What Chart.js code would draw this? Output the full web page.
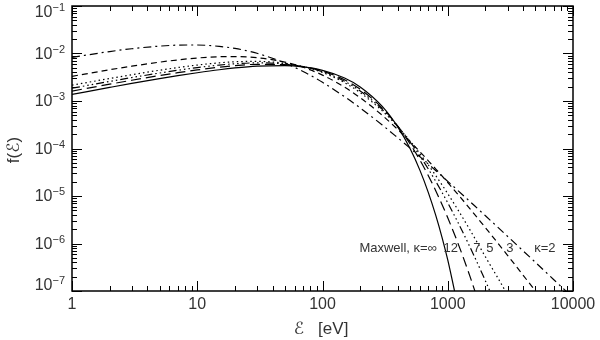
<!DOCTYPE html>
<html lang="en">
<head>
<meta charset="UTF-8">
<title>Kappa distributions</title>
<script src="https://cdn.jsdelivr.net/npm/chart.js"></script>
<style>
  html, body { margin: 0; padding: 0; background: #fff; }
  #wrap { width: 600px; height: 340px; position: relative; }
</style>
</head>
<body>
<div id="wrap"><canvas id="kappaChart"></canvas></div>
<script>
// energy grid [eV] and f(E)
const energy = [1, 2, 3, 5, 7, 10, 15, 20, 30, 50, 70, 100, 150, 200, 300, 400, 500, 600, 700, 800, 900, 1000, 1200, 1500, 2000, 3000, 5000, 7000, 10000];

const maxwell = [1.38e-3, 1.93e-3, 2.34e-3, 2.95e-3, 3.41e-3, 3.93e-3, 4.55e-3, 4.96e-3, 5.41e-3, 5.56e-3, 5.22e-3, 4.43e-3, 3.05e-3, 1.98e-3, 7.70e-4, 2.81e-4, 9.96e-5, 3.46e-5, 1.18e-5, 4.0e-6, 1.35e-6, 4.5e-7, 4.9e-8, null, null, null, null, null, null];
const kappa12 = [1.62e-3, 2.26e-3, 2.73e-3, 3.43e-3, 3.94e-3, 4.51e-3, 5.15e-3, 5.55e-3, 5.92e-3, 5.82e-3, 5.27e-3, 4.26e-3, 2.79e-3, 1.77e-3, 7.10e-4, 2.93e-4, 1.26e-4, 5.68e-5, 2.68e-5, 1.31e-5, 6.63e-6, 3.48e-6, 1.05e-6, 2.08e-7, 2.08e-8, null, null, null, null];
const kappa7 = [1.86e-3, 2.58e-3, 3.11e-3, 3.88e-3, 4.44e-3, 5.06e-3, 5.71e-3, 6.08e-3, 6.35e-3, 6.02e-3, 5.30e-3, 4.13e-3, 2.61e-3, 1.63e-3, 6.66e-4, 2.92e-4, 1.38e-4, 6.94e-5, 3.69e-5, 2.06e-5, 1.19e-5, 7.18e-6, 2.85e-6, 8.56e-7, 1.63e-7, 1.32e-8, null, null, null];
const kappa5 = [2.15e-3, 2.98e-3, 3.58e-3, 4.44e-3, 5.06e-3, 5.71e-3, 6.36e-3, 6.69e-3, 6.83e-3, 6.22e-3, 5.29e-3, 3.99e-3, 2.43e-3, 1.50e-3, 6.20e-4, 2.86e-4, 1.44e-4, 7.81e-5, 4.50e-5, 2.72e-5, 1.72e-5, 1.12e-5, 5.22e-6, 1.96e-6, 5.22e-7, 8.21e-8, 5.5e-9, null, null];
const kappa3 = [3.31e-3, 4.55e-3, 5.40e-3, 6.57e-3, 7.33e-3, 8.04e-3, 8.56e-3, 8.63e-3, 8.17e-3, 6.60e-3, 5.13e-3, 3.51e-3, 1.96e-3, 1.17e-3, 4.99e-4, 2.50e-4, 1.40e-4, 8.53e-5, 5.51e-5, 3.74e-5, 2.64e-5, 1.92e-5, 1.10e-5, 5.43e-6, 2.15e-6, 5.65e-7, 1.01e-7, 3.20e-8, 9.4e-9];
const kappa2 = [8.29e-3, 1.10e-2, 1.26e-2, 1.43e-2, 1.50e-2, 1.51e-2, 1.41e-2, 1.28e-2, 1.01e-2, 6.32e-3, 4.18e-3, 2.47e-3, 1.23e-3, 7.15e-4, 3.12e-4, 1.67e-4, 1.02e-4, 6.71e-5, 4.70e-5, 3.44e-5, 2.61e-5, 2.03e-5, 1.32e-5, 7.69e-6, 3.83e-6, 1.42e-6, 4.03e-7, 1.75e-7, 7.21e-8];

const xTickValues = [1, 10, 100, 1000, 10000];
const xTickLabels = ['1', '10', '100', '1000', '10000'];
const yTickExponents = [-7, -6, -5, -4, -3, -2, -1];

// curve labels inside the plot
const curveLabels = ['Maxwell, \u03ba=\u221e', '12', '7', '5', '3', '\u03ba=2'];
const curveLabelE = [820, 1057, 1706, 2168, 3133, 5970];
const curveLabelAlign = ['right', 'center', 'center', 'center', 'center', 'center'];

const FONT = '"Liberation Sans", "DejaVu Sans", sans-serif';
const TXT = '#333';

function pts(arr) {
    return energy.map((e, i) => ({ x: e, y: arr[i] }));
}

function series(label, arr, dash) {
    return {
        label: label,
        data: pts(arr),
        borderColor: '#000',
        borderWidth: 1.2,
        borderDash: dash,
        pointRadius: 0,
        fill: false,
        cubicInterpolationMode: 'monotone',
        spanGaps: false
    };
}

// IDL-like frame, inward ticks and all text
const idlFrame = {
    id: 'idlFrame',
    afterDraw(chart) {
        const ctx = chart.ctx;
        const a = chart.chartArea;
        const xs = chart.scales.x, ys = chart.scales.y;
        ctx.save();
        ctx.strokeStyle = '#000';

        // ticks
        ctx.lineWidth = 1;
        ctx.beginPath();
        for (let d = 0; d <= 4; d++) {
            for (let k = 1; k <= 9; k++) {
                const v = k * Math.pow(10, d);
                if (v > 10000) break;
                const px = Math.round(xs.getPixelForValue(v)) + 0.5;
                const len = k === 1 ? 10 : 5;
                ctx.moveTo(px, a.bottom); ctx.lineTo(px, a.bottom - len);
                ctx.moveTo(px, a.top); ctx.lineTo(px, a.top + len);
            }
        }
        for (let n = -7; n <= -1; n++) {
            for (let k = 1; k <= 9; k++) {
                const v = k * Math.pow(10, n);
                if (v > 0.1 + 1e-12) break;
                const py = Math.round(ys.getPixelForValue(v)) + 0.5;
                const len = k === 1 ? 10 : 5;
                ctx.moveTo(a.left, py); ctx.lineTo(a.left + len, py);
                ctx.moveTo(a.right, py); ctx.lineTo(a.right - len, py);
            }
        }
        ctx.stroke();

        // frame
        ctx.lineWidth = 1.5;
        ctx.strokeRect(a.left, a.top, a.right - a.left, a.bottom - a.top);

        ctx.fillStyle = TXT;

        // x tick labels
        ctx.font = '16px ' + FONT;
        ctx.textAlign = 'center';
        ctx.textBaseline = 'middle';
        xTickValues.forEach((v, i) => {
            ctx.fillText(xTickLabels[i], xs.getPixelForValue(v), a.bottom + 14);
        });

        // y tick labels 10^n
        yTickExponents.forEach(n => {
            const py = ys.getPixelForValue(Math.pow(10, n));
            const yc = Math.min(Math.max(py + 1, a.top + 6.5), a.bottom - 5.5);
            const exp = '\u2212' + Math.abs(n);
            ctx.font = '11px ' + FONT;
            const we = ctx.measureText(exp).width;
            ctx.textAlign = 'left';
            ctx.fillText(exp, 65 - we, yc - 5);
            ctx.font = '16px ' + FONT;
            ctx.textAlign = 'right';
            ctx.fillText('10', 65 - we, yc);
        });

        // axis titles
        ctx.font = '17px ' + FONT;
        ctx.textAlign = 'center';
        ctx.fillText('\u2130   [eV]', 321, 329);
        ctx.save();
        ctx.translate(14, 150);
        ctx.rotate(-Math.PI / 2);
        ctx.fillText('f(\u2130)', 0, 0);
        ctx.restore();

        // curve labels
        ctx.font = '13px ' + FONT;
        const ly = ys.getPixelForValue(8e-7);
        curveLabels.forEach((t, i) => {
            ctx.textAlign = curveLabelAlign[i];
            ctx.fillText(t, xs.getPixelForValue(curveLabelE[i]), ly);
        });

        ctx.restore();
    }
};

new Chart(document.getElementById('kappaChart').getContext('2d'), {
    type: 'line',
    data: {
        datasets: [
            series('Maxwell', maxwell, []),
            series('\u03ba=12', kappa12, [10, 5]),
            series('\u03ba=7', kappa7, [8, 3, 1.5, 3, 1.5, 3, 1.5, 3]),
            series('\u03ba=5', kappa5, [1.5, 3]),
            series('\u03ba=3', kappa3, [6, 4]),
            series('\u03ba=2', kappa2, [8, 4, 2, 4])
        ]
    },
    options: {
        responsive: true,
        maintainAspectRatio: false,
        animation: false,
        layout: { padding: { left: 72, right: 27, top: 6, bottom: 49 } },
        plugins: {
            legend: { display: false },
            tooltip: { enabled: false }
        },
        scales: {
            x: { type: 'logarithmic', min: 1, max: 10000, display: false },
            y: { type: 'logarithmic', min: 1e-7, max: 1e-1, display: false }
        }
    },
    plugins: [idlFrame]
});
</script>
</body>
</html>
